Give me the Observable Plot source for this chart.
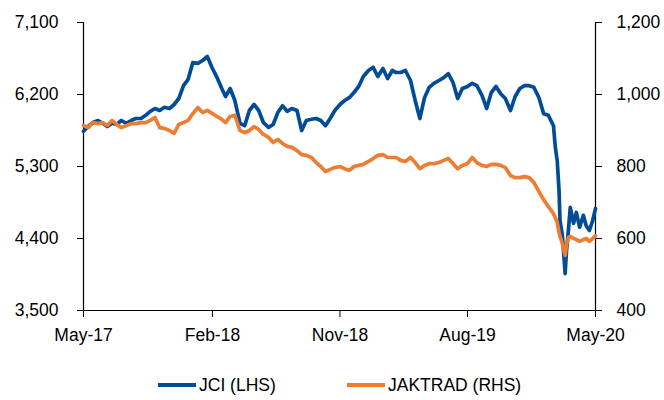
<!DOCTYPE html>
<html><head><meta charset="utf-8">
<script src="https://cdn.jsdelivr.net/npm/d3@7"></script>
<script src="https://cdn.jsdelivr.net/npm/@observablehq/plot@0.6"></script>
<style>
body{margin:0;background:#fff;font-family:"Liberation Sans",Arial,sans-serif;}
#wrap{position:relative;width:664px;height:400px;overflow:hidden;}
.leg{position:absolute;top:375px;height:20px;display:flex;align-items:center;font-size:17.5px;color:#000;white-space:nowrap;}
.sw{width:38px;height:3.5px;margin-right:3px;}
</style></head><body><div id="wrap"></div>
<script>
const dates = [
"2017-05-01","2017-05-11","2017-05-21","2017-06-01","2017-06-11","2017-06-21",
"2017-07-01","2017-07-11","2017-07-21","2017-08-01","2017-08-11","2017-08-21",
"2017-09-01","2017-09-11","2017-09-21","2017-10-01","2017-10-11","2017-10-21",
"2017-11-01","2017-11-11","2017-11-21","2017-12-01","2017-12-11","2017-12-21",
"2018-01-01","2018-01-11","2018-01-21","2018-02-01","2018-02-11","2018-02-21",
"2018-03-01","2018-03-11","2018-03-21","2018-04-01","2018-04-11","2018-04-21",
"2018-05-01","2018-05-11","2018-05-21","2018-06-01","2018-06-11","2018-06-21",
"2018-07-01","2018-07-11","2018-07-21","2018-08-01","2018-08-11","2018-08-21",
"2018-09-01","2018-09-11","2018-09-21","2018-10-01","2018-10-11","2018-10-21",
"2018-11-01","2018-11-11","2018-11-21","2018-12-01","2018-12-11","2018-12-21",
"2019-01-01","2019-01-11","2019-01-21","2019-02-01","2019-02-11","2019-02-21",
"2019-03-01","2019-03-11","2019-03-21","2019-04-01","2019-04-11","2019-04-21",
"2019-05-01","2019-05-11","2019-05-21","2019-06-01","2019-06-11","2019-06-21",
"2019-07-01","2019-07-11","2019-07-21","2019-08-01","2019-08-11","2019-08-21",
"2019-09-01","2019-09-11","2019-09-21","2019-10-01","2019-10-11","2019-10-21",
"2019-11-01","2019-11-11","2019-11-21","2019-12-01","2019-12-11","2019-12-21",
"2020-01-01","2020-01-11","2020-01-21",
"2020-02-01","2020-02-05","2020-02-09","2020-02-13","2020-02-15","2020-02-20",
"2020-02-22","2020-02-26","2020-02-29","2020-03-04","2020-03-08","2020-03-15",
"2020-03-21","2020-03-28","2020-04-05","2020-04-11","2020-04-18","2020-04-25",
"2020-05-01"
];
const jci = [
5740,5800,5850, 5875,5840,5800, 5840,5825,5875, 5840,5875,5900,
5900,5940,5990, 6025,6000,6040, 6025,6075,6150, 6310,6390,6600,
6590,6625,6675, 6525,6410,6275, 6175,6275,6125, 5840,5810,6000,
6075,6000,5850, 5790,5825,5975, 6060,5990,6025, 6000,5750,5875,
5890,5900,5875, 5810,5900,6000, 6075,6125,6160, 6225,6300,6425,
6500,6540,6425, 6525,6400,6500, 6475,6475,6500, 6375,6125,5900,
6160,6290,6340, 6375,6410,6460, 6350,6150,6275, 6300,6340,6310,
6190,6025,6225, 6300,6210,6150, 6000,6175,6275, 6310,6310,6290,
6160,5960,5940,
5810,5540,5375,5000,4625,4440,
4290,3960,4250,4500,4790,4590,
4725,4540,4690,4560,4500,4625,
4775
];
const jaktrad = [
914,908,922, 919,922,914, 928,917,908, 914,919,919,
922,922,928, 936,908,906, 900,892,917, 922,928,947,
964,950,956, 947,939,931, 922,939,942, 900,894,900,
911,903,889, 881,867,875, 864,856,853, 844,833,831,
825,811,800, 786,792,797, 800,794,789, 800,803,806,
814,822,831, 833,825,825, 825,817,814, 825,811,794,
803,808,808, 811,817,822, 808,794,803, 808,825,811,
803,800,806, 806,803,797, 775,769,769, 772,769,756,
730,708,689,
669,658,644,617,606,586,
575,553,581,603,606,600,
597,592,597,600,592,600,
608
];
const leftTicks = [3500,4400,5300,6200,7100];
const rightTicks = [400,600,800,1000,1200];
const xTickDates = ["2017-05-01","2018-02-01","2018-11-01","2019-08-01","2020-05-01"];
const seriesNames = ["JCI (LHS)","JAKTRAD (RHS)"];
const colors = ["#004C97","#ED7D31"];

const parse = d3.utcParse("%Y-%m-%d");
const toLeft = d3.scaleLinear([rightTicks[0], rightTicks[rightTicks.length-1]], [leftTicks[0], leftTicks[leftTicks.length-1]]);
const rows = dates.map((d,i)=>({date: parse(d), jci: jci[i], jak: toLeft(jaktrad[i])}));
const x0 = parse(xTickDates[0]), x1 = parse(xTickDates[xTickDates.length-1]);
const fmt = d3.format(",");

const chart = Plot.plot({
  width: 664, height: 350,
  marginLeft: 83, marginRight: 69, marginTop: 22, marginBottom: 40,
  style: {fontFamily: "'Liberation Sans', Arial, sans-serif", fontSize: "17.5px", color: "#000", background: "#fff"},
  x: {type: "utc", domain: [x0, x1]},
  y: {domain: [leftTicks[0], leftTicks[leftTicks.length-1]]},
  marks: [
    Plot.axisY(leftTicks, {anchor: "left", tickSize: 6, tickPadding: 19, tickFormat: fmt, label: null, fontSize: 17.5}),
    Plot.axisY(rightTicks.map(toLeft), {anchor: "right", tickSize: 6, tickPadding: 15, tickFormat: d => fmt(Math.round(toLeft.invert(d))), label: null, fontSize: 17.5}),
    Plot.axisX(xTickDates.map(parse), {anchor: "bottom", tickSize: 7, tickPadding: 11, tickFormat: d3.utcFormat("%b-%y"), label: null, fontSize: 17.5}),
    Plot.ruleY([leftTicks[0]], {stroke: "#000", strokeWidth: 1.2}),
    Plot.ruleX([x0, x1], {stroke: "#000", strokeWidth: 1.2}),
    Plot.lineY(rows, {x: "date", y: "jci", stroke: colors[0], strokeWidth: 3.7, strokeLinejoin: "round"}),
    Plot.lineY(rows, {x: "date", y: "jak", stroke: colors[1], strokeWidth: 3.7, strokeLinejoin: "round"})
  ]
});
const wrap = document.getElementById("wrap");
wrap.appendChild(chart);
const legPos = [158, 347];
seriesNames.forEach((n,i)=>{
  const d = document.createElement("div");
  d.className = "leg";
  d.style.left = legPos[i] + "px";
  const s = document.createElement("span");
  s.className = "sw"; s.style.background = colors[i];
  const t = document.createElement("span");
  t.textContent = n;
  d.appendChild(s); d.appendChild(t);
  wrap.appendChild(d);
});
</script>
</body></html>
